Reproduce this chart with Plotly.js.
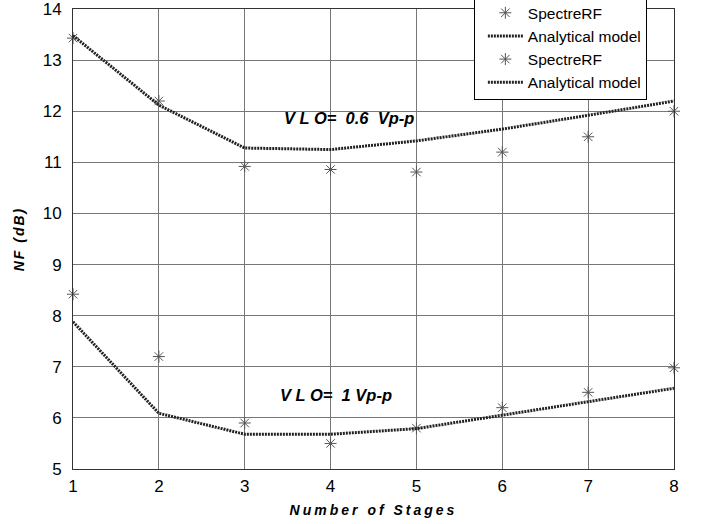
<!DOCTYPE html>
<html>
<head>
<meta charset="utf-8">
<script src="https://cdn.plot.ly/plotly-3.0.1.min.js"></script>
<style>body{margin:0;padding:0;background:#fff}#chart{width:703px;height:524px}</style>
</head>
<body>
<div id="chart"></div>
<script>
var stages = [1, 2, 3, 4, 5, 6, 7, 8];
var spectre06 = [13.43, 12.2, 10.92, 10.86, 10.81, 11.2, 11.5, 12.0];
var model06 = [13.48, 12.12, 11.28, 11.25, 11.42, 11.65, 11.92, 12.2];
var spectre1 = [8.42, 7.2, 5.9, 5.5, 5.8, 6.2, 6.5, 6.98];
var model1 = [7.88, 6.09, 5.68, 5.68, 5.79, 6.05, 6.32, 6.58];
var xTicks = [1, 2, 3, 4, 5, 6, 7, 8];
var yTicks = [5, 6, 7, 8, 9, 10, 11, 12, 13, 14];
var seriesNames = ["SpectreRF", "Analytical model", "SpectreRF", "Analytical model"];
var annoTexts = ["V L O=  0.6  Vp-p", "V L O=  1 Vp-p"];
var annoX = [4.21, 4.06];
var annoY = [11.86, 6.45];

function markerTrace(y, name) {
  return {x: stages, y: y, name: name, mode: "markers", type: "scatter", cliponaxis: false,
    marker: {symbol: "asterisk-open", size: 10, color: "#555", line: {color: "#555", width: 1}}};
}
function lineTrace(y, name) {
  return {x: stages, y: y, name: name, mode: "lines", type: "scatter",
    line: {color: "#222", width: 3, dash: "2px,1px"}};
}
var data = [
  markerTrace(spectre06, seriesNames[0]),
  lineTrace(model06, seriesNames[1]),
  markerTrace(spectre1, seriesNames[2]),
  lineTrace(model1, seriesNames[3])
];
var titleFont = {family: "Liberation Sans, Arial, sans-serif", size: 14, color: "#000", weight: "bold", style: "italic"};
var layout = {
  width: 703, height: 524,
  margin: {l: 73, r: 29, t: 9, b: 55, autoexpand: false},
  paper_bgcolor: "#fff", plot_bgcolor: "#fff",
  font: {family: "Liberation Sans, Arial, sans-serif", size: 17, color: "#000"},
  showlegend: true,
  legend: {x: 0.667, xanchor: "left", y: 1.03, yanchor: "top", bgcolor: "#fff",
    bordercolor: "#000", borderwidth: 1, font: {size: 15.5}, tracegroupgap: 0,
    indentation: 8, itemwidth: 35},
  xaxis: {range: [1, 8], tickvals: xTicks, ticktext: xTicks.map(String), showgrid: true,
    gridcolor: "#777", gridwidth: 1, zeroline: false, showline: true, linecolor: "#333",
    linewidth: 1, mirror: true, ticks: "", ticklen: 0, ticklabelstandoff: 2, ticklabeloverflow: "allow",
    title: {text: '<span style="letter-spacing:3px">Number of Stages</span>', font: titleFont, standoff: 9}},
  yaxis: {range: [5, 14], tickvals: yTicks, ticktext: yTicks.map(String), showgrid: true,
    gridcolor: "#777", gridwidth: 1, zeroline: false, showline: true, linecolor: "#333",
    linewidth: 1, mirror: true, ticks: "", ticklen: 0, ticklabelstandoff: 7, ticklabeloverflow: "allow",
    title: {text: '<span style="letter-spacing:2px">NF (dB)</span>', font: titleFont, standoff: 14}},
  annotations: annoTexts.map(function (t, i) {
    return {x: annoX[i], y: annoY[i], xref: "x", yref: "y", text: t, showarrow: false,
      font: {family: "Liberation Sans, Arial, sans-serif", size: 16.5, color: "#000", weight: "bold", style: "italic"}};
  })
};
Plotly.newPlot("chart", data, layout, {displayModeBar: false, staticPlot: true});
</script>
</body>
</html>
